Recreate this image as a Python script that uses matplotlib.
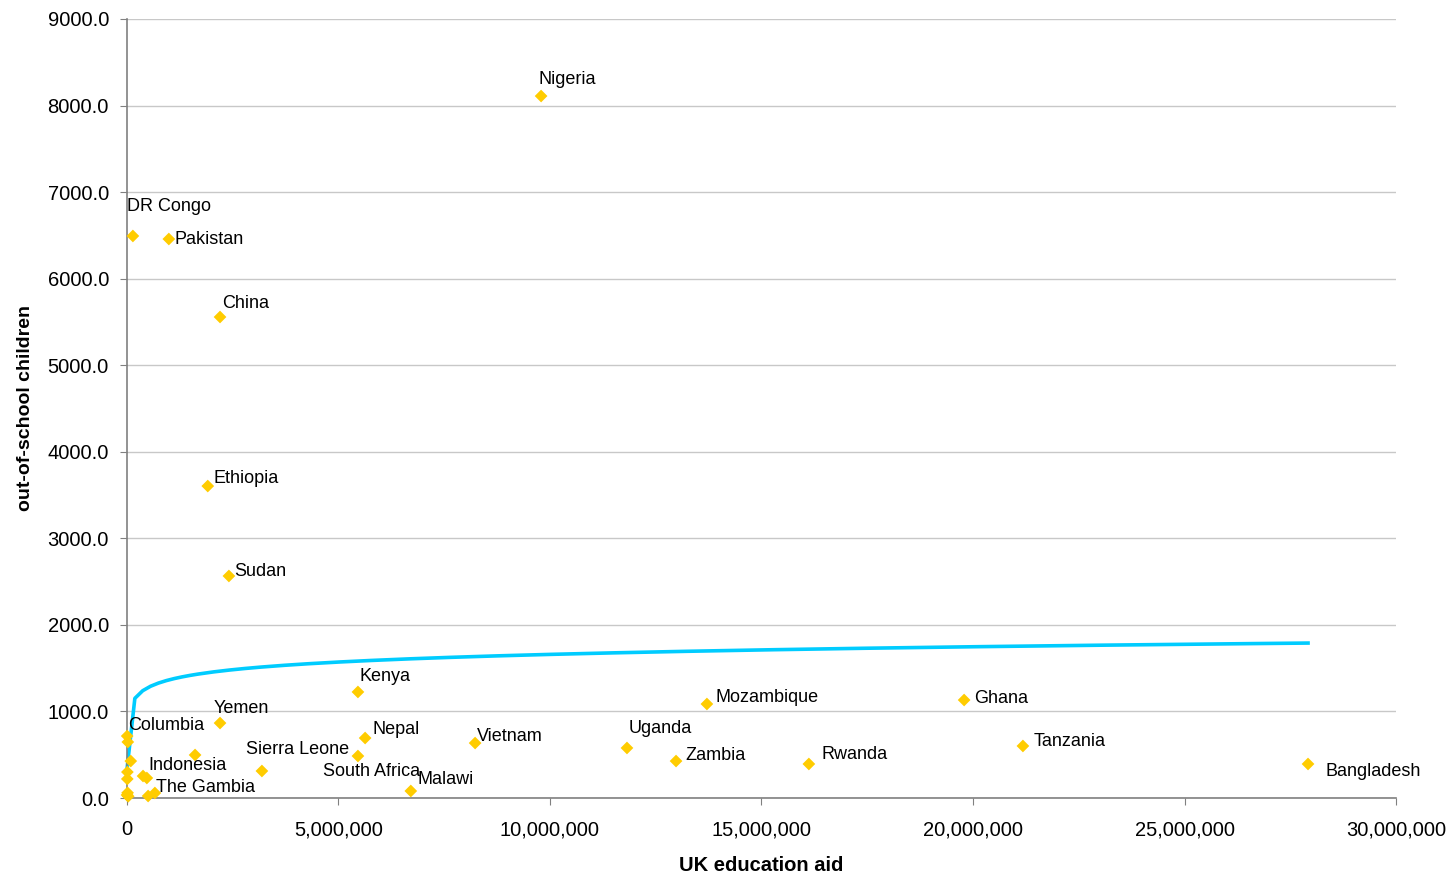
import numpy as np
import matplotlib
matplotlib.use("Agg")
import matplotlib.pyplot as plt
from matplotlib.ticker import FuncFormatter, MultipleLocator

plt.rcParams["font.family"] = ["Liberation Sans", "DejaVu Sans"]

# UK education aid (GBP) vs. out-of-school children (thousands)
countries = ["Nigeria", "DR Congo", "Pakistan", "China", "Ethiopia", "Sudan",
             "Kenya", "Yemen", "Columbia", "Nepal", "Sierra Leone",
             "South Africa", "Vietnam", "Malawi", "Uganda", "Zambia",
             "Mozambique", "Rwanda", "Ghana", "Tanzania", "Bangladesh",
             "Indonesia", "The Gambia"]
aid = [9_790_000, 140_000, 990_000, 2_200_000, 1_910_000, 2_410_000,
       5_460_000, 2_200_000, 5_000, 5_630_000, 5_460_000,
       3_190_000, 8_230_000, 6_710_000, 11_820_000, 12_980_000,
       13_710_000, 16_120_000, 19_790_000, 21_180_000, 27_920_000,
       380_000, 660_000]
children = [8110, 6493, 6458, 5557, 3604, 2565,
            1225, 866, 716, 693, 485,
            312, 635, 81, 578, 427,
            1086, 393, 1132, 601, 393,
            254, 58]

# unlabelled countries bunched near the origin
other_aid = [20_000, 90_000, 10_000, 8_000, 300, 15_000, 30_000,
             470_000, 1_610_000, 500_000]
other_children = [647, 427, 300, 220, 35, 60, 20,
                  231, 497, 23]

# logarithmic trend line y = a*ln(x) + b
TREND_A = 127.5
TREND_B = -396.0

# label offsets from the marker, in pixels (dx right, dy up)
label_offset = {
    "Nigeria": (-3, 17), "DR Congo": (-6, 29), "Pakistan": (6, 0),
    "China": (2, 14), "Ethiopia": (6, 8), "Sudan": (5, 4),
    "Kenya": (2, 15), "Yemen": (-6, 15), "Columbia": (1, 11),
    "Nepal": (7, 9), "Sierra Leone": (-112, 7), "South Africa": (61, -1),
    "Vietnam": (2, 7), "Malawi": (7, 11), "Uganda": (2, 19),
    "Zambia": (9, 6), "Mozambique": (9, 6), "Rwanda": (13, 9),
    "Ghana": (10, 2), "Tanzania": (11, 4), "Bangladesh": (17, -8),
    "Indonesia": (5, 11), "The Gambia": (1, 5),
}

fig = plt.figure(figsize=(14.56, 8.75), dpi=100)
ax = fig.add_axes([0.0872, 0.088, 0.8716, 0.8903])

all_aid = np.array(aid + other_aid, dtype=float)
tx = np.linspace(all_aid.min(), all_aid.max(), 151)
ax.plot(tx, TREND_A * np.log(tx) + TREND_B, color="#00CCFF", lw=2.6,
        zorder=2, clip_on=False)

ax.scatter(other_aid, other_children, marker="D", s=42, color="#FFCC00",
           edgecolors="none", zorder=3, clip_on=False)
ax.scatter(aid, children, marker="D", s=42, color="#FFCC00",
           edgecolors="none", zorder=3, clip_on=False)

for name, x, y in zip(countries, aid, children):
    dx, dy = label_offset[name]
    ax.annotate(name, (x, y), xytext=(dx * 0.72, dy * 0.72),
                textcoords="offset points", fontsize=13,
                ha="left", va="center", zorder=4)

ax.set_xlim(0, 30_000_000)
ax.set_ylim(0, 9000)
ax.xaxis.set_major_locator(MultipleLocator(5_000_000))
ax.yaxis.set_major_locator(MultipleLocator(1000))
ax.xaxis.set_major_formatter(FuncFormatter(lambda v, p: f"{v:,.0f}"))
ax.yaxis.set_major_formatter(FuncFormatter(lambda v, p: f"{v:.1f}"))
ax.tick_params(labelsize=14.5, length=5, color="#808080", direction="out")
ax.tick_params(axis="x", pad=11)
ax.tick_params(axis="y", pad=8)

ax.grid(axis="y", color="#C8C8C8", lw=1)
ax.set_axisbelow(True)
for side in ("top", "right"):
    ax.spines[side].set_visible(False)
for side in ("left", "bottom"):
    ax.spines[side].set_color("#808080")
    ax.spines[side].set_linewidth(1.2)

ax.set_xlabel("UK education aid", fontsize=14.5, fontweight="bold",
              labelpad=12)
ax.set_ylabel("out-of-school children", fontsize=14, fontweight="bold",
              labelpad=10)

fig.savefig("out.png", dpi=100)
